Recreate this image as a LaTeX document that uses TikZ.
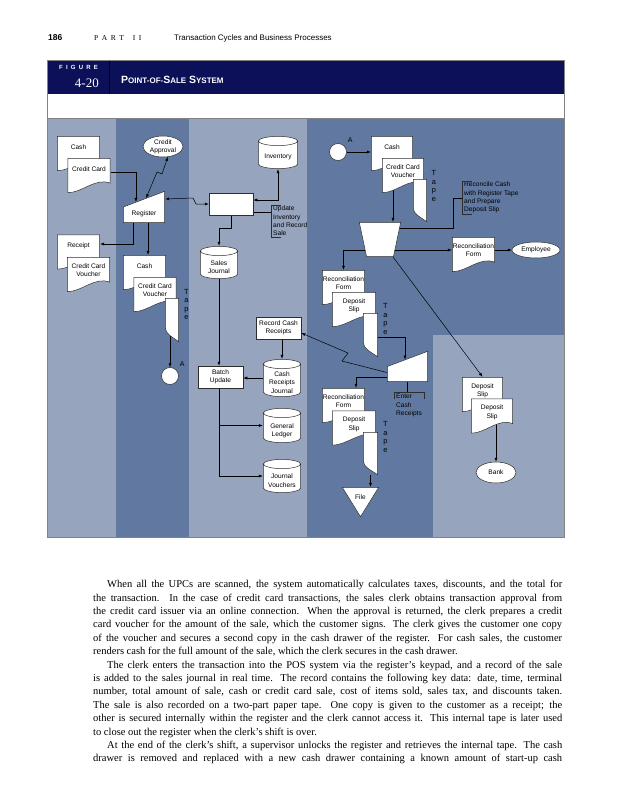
\documentclass[tikz,border=0pt]{standalone}
\usepackage{fontspec}
\setmainfont{Liberation Serif}
\setsansfont{Liberation Sans}
\usetikzlibrary{arrows.meta,calc,positioning,shapes.geometric}

\definecolor{lanelight}{RGB}{150,164,190}
\definecolor{lanedark}{RGB}{97,121,160}
\definecolor{navy}{RGB}{12,16,88}
\definecolor{rule}{RGB}{130,130,130}
\definecolor{shapeline}{RGB}{45,45,45}

\pgfdeclarelayer{lanes}
\pgfdeclarelayer{edges}
\pgfsetlayers{lanes,edges,main}

\newcommand\diag{\sffamily\fontsize{6.6}{8.3}\selectfont}
\newcommand\fsc[2]{{\fontsize{10.5}{12}\selectfont #1}{\fontsize{8}{12}\selectfont #2}}

\tikzset{
  lbl/.style={font=\diag, align=center, inner sep=0pt},
  outline/.style={fill=white, draw=shapeline, line width=0.5pt},
  doc/.style={lbl, minimum width=43pt, minimum height=35pt, text depth=13pt,
    path picture={\filldraw[outline]
      let \p1=(path picture bounding box.south west),
          \p2=(path picture bounding box.north east) in
      ({\x1+0.3pt},{\y2-0.3pt}) -- ({\x2-0.3pt},{\y2-0.3pt})
      -- ({\x2-0.3pt},{\y1+0.28*(\y2-\y1)})
      .. controls ({\x2-0.35*(\x2-\x1)},{\y1+0.45*(\y2-\y1)})
             and ({\x1+0.35*(\x2-\x1)},{\y1+0.3pt}) .. ({\x1+0.3pt},{\y1+0.3pt}) -- cycle;}},
  doc2/.style={doc, text depth=9pt},
  tape/.style={minimum width=14pt, minimum height=44pt, inner sep=0pt,
    path picture={\filldraw[outline]
      let \p1=(path picture bounding box.south west),
          \p2=(path picture bounding box.north east) in
      ({\x1+0.3pt},{\y2-0.3pt}) -- ({\x2-0.3pt},{\y2-0.3pt}) -- ({\x2-0.3pt},{\y1+0.3pt})
      .. controls ({\x1+0.5*(\x2-\x1)},{\y1+0.12*(\y2-\y1)})
             and ({\x1+0.05*(\x2-\x1)},{\y1+0.18*(\y2-\y1)}) .. ({\x1+0.3pt},{\y1+0.32*(\y2-\y1)}) -- cycle;}},
  cyl/.style={lbl, minimum width=38pt, minimum height=34pt, text height=12.8pt, text depth=0pt,
    path picture={\filldraw[outline]
      let \p1=(path picture bounding box.south west),
          \p2=(path picture bounding box.north east) in
      ({\x1+0.3pt},{\y2-5pt}) -- ({\x1+0.3pt},{\y1+5pt})
      .. controls ({\x1+0.3pt},{\y1+2.4pt}) and ({\x1+0.27*(\x2-\x1)},{\y1+0.3pt}) .. ({(\x1+\x2)/2},{\y1+0.3pt})
      .. controls ({\x2-0.27*(\x2-\x1)},{\y1+0.3pt}) and ({\x2-0.3pt},{\y1+2.4pt}) .. ({\x2-0.3pt},{\y1+5pt})
      -- ({\x2-0.3pt},{\y2-5pt})
      .. controls ({\x2-0.3pt},{\y2-2.4pt}) and ({\x2-0.27*(\x2-\x1)},{\y2-0.3pt}) .. ({(\x1+\x2)/2},{\y2-0.3pt})
      .. controls ({\x1+0.27*(\x2-\x1)},{\y2-0.3pt}) and ({\x1+0.3pt},{\y2-2.4pt}) .. ({\x1+0.3pt},{\y2-5pt}) -- cycle
      ({\x1+0.3pt},{\y2-5pt})
      .. controls ({\x1+0.3pt},{\y2-7.6pt}) and ({\x1+0.27*(\x2-\x1)},{\y2-9.7pt}) .. ({(\x1+\x2)/2},{\y2-9.7pt})
      .. controls ({\x2-0.27*(\x2-\x1)},{\y2-9.7pt}) and ({\x2-0.3pt},{\y2-7.6pt}) .. ({\x2-0.3pt},{\y2-5pt});}},
  cyl2/.style={cyl, text height=22pt},
  cyl3/.style={cyl, text height=30.4pt},
  manin/.style={lbl, minimum width=42pt, minimum height=32pt, text height=17pt, text depth=0pt,
    path picture={\filldraw[outline]
      let \p1=(path picture bounding box.south west),
          \p2=(path picture bounding box.north east) in
      ({\x1+0.3pt},{(\y1+\y2)/2}) -- ({\x2-0.3pt},{\y2-0.3pt}) -- ({\x2-0.3pt},{\y1+0.3pt})
      -- ({\x1+0.3pt},{\y1+0.3pt}) -- cycle;}},
  trap/.style={minimum width=42pt, minimum height=35pt, inner sep=0pt,
    path picture={\filldraw[outline]
      let \p1=(path picture bounding box.south west),
          \p2=(path picture bounding box.north east) in
      ({\x1+0.3pt},{\y2-0.3pt}) -- ({\x2-0.3pt},{\y2-0.3pt})
      -- ({\x2-0.18*(\x2-\x1)},{\y1+0.3pt}) -- ({\x1+0.18*(\x2-\x1)},{\y1+0.3pt}) -- cycle;}},
  filetri/.style={lbl, minimum width=37pt, minimum height=30pt, text depth=9pt,
    path picture={\filldraw[outline]
      let \p1=(path picture bounding box.south west),
          \p2=(path picture bounding box.north east) in
      ({\x1+0.3pt},{\y2-0.3pt}) -- ({\x2-0.3pt},{\y2-0.3pt}) -- ({(\x1+\x2)/2},{\y1+0.3pt}) -- cycle;}},
  box/.style={lbl, draw=shapeline, fill=white, line width=0.5pt, minimum width=45pt, minimum height=22pt},
  term/.style={lbl, ellipse, draw=shapeline, fill=white, line width=0.5pt},
  conn/.style={circle, draw=shapeline, fill=white, line width=0.5pt, minimum size=17pt, inner sep=0pt,
    label={[font=\sffamily\fontsize{7}{8}\selectfont, inner sep=0pt, label distance=5pt]45:A}},
  note/.style={font=\diag, align=left, inner xsep=2pt, inner ysep=1pt, anchor=north west},
  tapelbl/.style={font=\sffamily\fontsize{7.4}{8.4}\selectfont, align=center, inner sep=0pt},
  arr/.style={-{Latex[length=4pt,width=3pt]}, line width=0.5pt},
  arrs/.style={{Latex[length=4pt,width=3pt]}-{Latex[length=4pt,width=3pt]}, line width=0.5pt}
}

\begin{document}
\begin{tikzpicture}[x=1pt,y=-1pt]
\useasboundingbox (0,0) rectangle (639,800);

% page head
\node[anchor=base west, inner sep=0pt, font=\sffamily\bfseries\fontsize{8.5}{10}\selectfont] (pgno) at (48,41) {186};
\node[anchor=base west, inner sep=0pt, font=\rmfamily\fontsize{7.5}{9}\selectfont] (part) at (94,41)
{P\kern3.5pt A\kern3.5pt R\kern3.5pt T\kern9pt I\kern3.5pt I};
\node[anchor=base west, inner sep=0pt, font=\sffamily\fontsize{8}{10}\selectfont] (runhead) at (174,41)
{Transaction Cycles and Business Processes};

% figure head
\fill[navy] (47,60) rectangle (564,94);
\draw[black, line width=1pt] (109,60) -- (109,94);
\node[anchor=base west, inner sep=0pt, text=white, font=\sffamily\bfseries\fontsize{6}{7}\selectfont] (figword) at (59,70)
{F\kern3.2pt I\kern3.2pt G\kern3.2pt U\kern3.2pt R\kern3.2pt E};
\node[anchor=base east, inner sep=0pt, text=white, font=\rmfamily\fontsize{13}{14}\selectfont] (fignum) at (99,87) {4-20};
\node[anchor=base west, inner sep=0pt, text=white, font=\sffamily\bfseries] (figtitle) at (121,83)
{\fsc{P}{OINT-OF-}\fsc{S}{ALE} \fsc{S}{YSTEM}};

% swim lanes
\begin{pgfonlayer}{lanes}
\fill[white] (0,0) rectangle (639,800);
\fill[lanelight] (47,118) rectangle (116,537);
\fill[lanedark] (116,118) rectangle (189,537);
\fill[lanelight] (189,118) rectangle (307,537);
\fill[lanedark] (307,118) rectangle (564,537);
\fill[lanelight] (433,335) rectangle (564,537);
\end{pgfonlayer}
\draw[rule, line width=0.6pt] (47,60) rectangle (564,537);
\draw[rule, line width=0.6pt] (47,118) -- (564,118);

% customer
\node[doc] (cash1) at (78.5,153.5) {Cash};
\node[doc] (ccard1) at (89,175.5) {Credit Card};
\node[doc] (receipt) at (78.5,252) {Receipt};
\node[doc2] (vouch1) at (88.5,274.5) {Credit Card\\Voucher};

% sales clerk
\node[term, minimum width=40pt, minimum height=21pt] (approval) at (163,146.5) {Credit\\Approval};
\node[manin] (register) at (144,207) {Register};
\node[doc] (cash2) at (144.5,272.5) {Cash};
\node[doc2] (vouch2) at (155,294.5) {Credit Card\\Voucher};
\node[tape] (tape1) at (172,320) {};
\node[tapelbl] (tape1lbl) at (186.5,304.5) {T\\a\\p\\e};
\node[conn] (conA1) at (170,376) {};

% computer operations
\node[box, minimum width=44pt] (proc) at (231,204) {};
\node[cyl, minimum width=40pt, minimum height=33pt] (inventory) at (278,152.5) {Inventory};
\node[note] (updnote) at (271,205) {Update\\Inventory\\and Record\\Sale};
\node[cyl2, minimum height=33pt] (sj) at (219,262.5) {Sales\\Journal};
\node[box] (reccash) at (278.5,328) {Record Cash\\Receipts};
\node[cyl3, minimum height=38pt] (crj) at (282,378) {Cash\\Receipts\\Journal};
\node[box] (batch) at (220.5,377) {Batch\\Update};
\node[cyl2, minimum height=35pt] (gl) at (282,425.5) {General\\Ledger};
\node[cyl2, minimum height=34pt] (jv) at (282,476) {Journal\\Vouchers};

% supervisor
\node[conn] (conA2) at (338,152) {};
\node[doc, minimum width=42pt] (cash3) at (392,153.5) {Cash};
\node[doc2, minimum width=42pt] (vouch3) at (403,175.5) {Credit Card\\Voucher};
\node[tape, minimum height=43pt] (tape2) at (420,200.5) {};
\node[tapelbl] (tape2lbl) at (434,186) {T\\a\\p\\e};
\node[trap] (recon) at (380,239.5) {};
\node[note] (recnote) at (462,181) {Reconcile Cash\\with Register Tape\\and Prepare\\Deposit Slip};
\node[doc2] (recform1) at (473.5,254.5) {Reconciliation\\Form};
\node[term, minimum width=48pt, minimum height=16pt] (employee) at (536,250) {Employee};
\node[doc2] (recform2) at (343.5,287.5) {Reconciliation\\Form};
\node[doc2, minimum width=44pt] (dslip1) at (354,309.5) {Deposit\\Slip};
\node[tape, minimum width=15pt] (tape3) at (370.5,335) {};
\node[tapelbl] (tape3lbl) at (385.5,319) {T\\a\\p\\e};
\node[manin, minimum width=41pt, minimum height=31pt] (keyin) at (407.5,366.5) {};
\node[note] (enternote) at (394,393) {Enter\\Cash\\Receipts};
\node[doc2] (recform3) at (343.5,405.5) {Reconciliation\\Form};
\node[doc2, minimum width=44pt] (dslip2) at (354,428) {Deposit\\Slip};
\node[tape, minimum width=15pt, minimum height=43pt] (tape4) at (370.5,453.5) {};
\node[tapelbl] (tape4lbl) at (385.5,437) {T\\a\\p\\e};
\node[filetri] (file) at (360.5,502) {File};

% bank
\node[doc2, minimum width=41pt] (dslip3) at (482.5,394.5) {Deposit\\Slip};
\node[doc2, minimum width=42pt] (dslip4) at (492,416) {Deposit\\Slip};
\node[term, minimum width=40pt, minimum height=21pt] (bank) at (496,472.5) {Bank};

% annotation brackets
\draw[shapeline, line width=0.5pt] ([xshift=10pt]updnote.north west) -- (updnote.north west)
  -- (updnote.south west) -- ([xshift=10pt]updnote.south west);
\draw[shapeline, line width=0.5pt] ([xshift=10pt]recnote.north west) -- (recnote.north west)
  -- (recnote.south west) -- ([xshift=10pt]recnote.south west);
\draw[shapeline, line width=0.5pt] ([yshift=-6pt]enternote.north west) -- ([yshift=1pt]enternote.north west)
  -- ([yshift=1pt]enternote.north east) -- ([yshift=-6pt]enternote.north east);

\begin{pgfonlayer}{edges}
\draw[arr] ([yshift=3.5pt]ccard1.east) -| ($(register.west)!0.31!(register.north east)$);
\draw[arrs] (approval.-65) -- (162,174) -- (157,172) -- ($(register.west)!0.55!(register.north east)$);
\draw[arrs] ([yshift=8pt]register.east) -- (193,198) -- (196,204) -- (proc.west);
\draw[arrs] ([yshift=4pt]proc.east) -| (inventory.south);
\draw[arr] (proc.south) -- ++(0,13) -| (sj.north);
\draw[arr] ([xshift=-11pt]register.south) |- ([yshift=8pt]receipt.east);
\draw[arr] ([xshift=4pt]register.south) -- ([xshift=3.5pt]cash2.north);
\draw[arr] (conA1 |- tape1) -- (conA1.north);
\draw[arr] (sj) -- (sj |- batch.north);
\draw[arr] (crj |- reccash) -- (crj.north);
\draw[arr] (crj.west) -- (crj.west -| batch.east);
\draw[arr] ([xshift=-1.5pt]batch.south) |- (gl.west);
\draw[arr] ([xshift=-1.5pt]batch.south) |- (jv.west);
\coordinate (updin) at ($(proc.east)+(0,8)$);
\draw (updin) -- (updin -| updnote.west);
\draw[arr] ([yshift=-6pt]keyin.west) -- (342,361) -- (348,353) -- ([yshift=-5pt]reccash.east);
\draw[arr] ([yshift=-10.5pt]keyin.west) -| ([xshift=12.5pt]recform3.north);
\draw[arr] ([yshift=-2pt]tape3.east) -| ($(keyin.west)!0.44!(keyin.north east)$);
\draw (keyin.south) -- (keyin.south |- enternote.north);
\draw[arr] (conA2.east) -- (conA2.east -| cash3.west);
\draw[arr] ($(vouch3)+(-10,0)$) -- ($(recon.north)+(13,0)$);
\coordinate (rfy) at ($(recform1.west)+(0,-4.5)$);
\draw[arr] (rfy -| recon) -- (rfy);
\draw[arr] (rfy -| recon) -| (recform2.north);
\draw[arr] (employee.west -| recform1.east) -- (employee.west);
\draw[arr] (recon) -- (dslip3.north);
\draw ($(recon)+(0,-11.5)$) -| ($(recnote.west)+(-9,0)$) -- (recnote.west);
\draw[arr] (tape4) -- (tape4 |- file.north);
\draw[arr] (bank |- dslip4) -- (bank.north);
\end{pgfonlayer}

% body text
\node[anchor=north west, inner sep=0pt, text width=469pt, align=justify,
  font=\rmfamily\fontsize{10.5}{13.4}\selectfont] (body) at (93,580)
{\hspace*{14pt}When all the UPCs are scanned, the system automatically calculates taxes, discounts, and the total for\linebreak
the transaction. In the case of credit card transactions, the sales clerk obtains transaction approval from\linebreak
the credit card issuer via an online connection. When the approval is returned, the clerk prepares a credit\linebreak
card voucher for the amount of the sale, which the customer signs. The clerk gives the customer one copy\linebreak
of the voucher and secures a second copy in the cash drawer of the register. For cash sales, the customer\linebreak
renders cash for the full amount of the sale, which the clerk secures in the cash drawer.\par
\hspace*{14pt}The clerk enters the transaction into the POS system via the register’s keypad, and a record of the sale\linebreak
is added to the sales journal in real time. The record contains the following key data: date, time, terminal\linebreak
number, total amount of sale, cash or credit card sale, cost of items sold, sales tax, and discounts taken.\linebreak
The sale is also recorded on a two-part paper tape. One copy is given to the customer as a receipt; the\linebreak
other is secured internally within the register and the clerk cannot access it. This internal tape is later used\linebreak
to close out the register when the clerk’s shift is over.\par
\hspace*{14pt}At the end of the clerk’s shift, a supervisor unlocks the register and retrieves the internal tape. The cash\linebreak
drawer is removed and replaced with a new cash drawer containing a known amount of start-up cash{\parfillskip=0pt\par}};
\end{tikzpicture}
\end{document}
